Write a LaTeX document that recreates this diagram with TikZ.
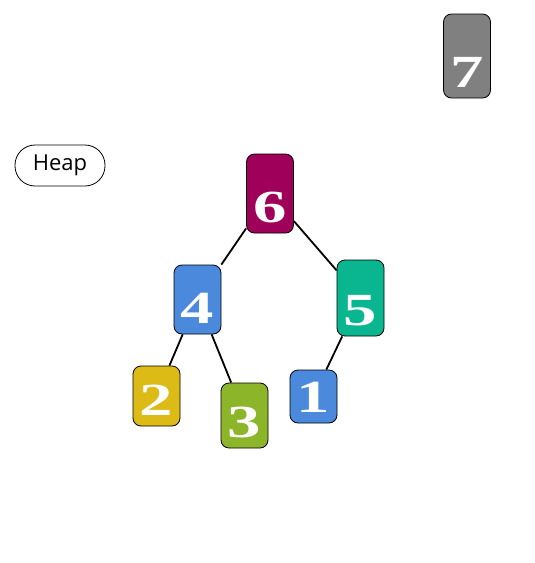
\documentclass[tikz,border=0pt]{standalone}
\usepackage{fontspec}
\usepackage{xcolor}
\usepackage{tikz}
\usetikzlibrary{positioning}
\setmainfont{Liberation Serif}
\newfontfamily\labelfont{Open Sans}
\definecolor{heapmagenta}{RGB}{158,0,90}
\definecolor{heapblue}{RGB}{74,137,220}
\definecolor{heapteal}{RGB}{10,182,144}
\definecolor{heapyellow}{RGB}{221,187,23}
\definecolor{heapgreen}{RGB}{140,181,42}
\definecolor{heapgray}{RGB}{128,128,128}
\newcommand{\keydigit}[1]{\scalebox{1.45}[1]{#1}}
\tikzset{
  card/.style={
    rectangle, rounded corners=8pt, draw=black, line width=0.8pt,
    minimum width=47pt, inner sep=0pt, text=white,
    text depth=10.5pt, text height=#1,
    font=\fontsize{46}{46}\selectfont\bfseries
  },
  tag/.style={
    rectangle, rounded corners=20pt, draw=black, line width=0.8pt,
    minimum width=90pt, minimum height=41pt, inner sep=0pt,
    font=\labelfont\fontsize{22}{22}\selectfont
  },
  link/.style={draw, line width=1.8pt},
}

\begin{document}
\begin{tikzpicture}[x=1pt, y=-1pt]
  \useasboundingbox (0,0) rectangle (535,563);

  % Label
  \node[tag] (heap) at (60,165.5) {Heap};

  % Tree
  \node[card=68.5pt, fill=heapmagenta] (n6) at (270,193.5) {\keydigit{6}};
  \node[card=58.5pt, fill=heapblue] (n4) at (197.5,299.5) {\keydigit{4}};
  \node[card=65.5pt, fill=heapteal] (n5) at (360.5,298) {\keydigit{5}};
  \node[card=49.5pt, fill=heapyellow] (n2) at (156.5,396) {\keydigit{2}};
  \node[card=54.5pt, fill=heapgreen] (n3) at (244.5,415.5) {\keydigit{3}};
  \node[card=42.5pt, fill=heapblue] (n1) at (313.5,396.5) {\keydigit{1}};

  % Detached element
  \node[card=73.5pt, fill=heapgray] (n7) at (467,56) {\keydigit{7}};

  % Links
  \foreach \a/\b in {n6/n4, n6/n5, n4/n2, n4/n3, n5/n1} {
    \draw[link] (\a) -- (\b);
  }
\end{tikzpicture}
\end{document}
